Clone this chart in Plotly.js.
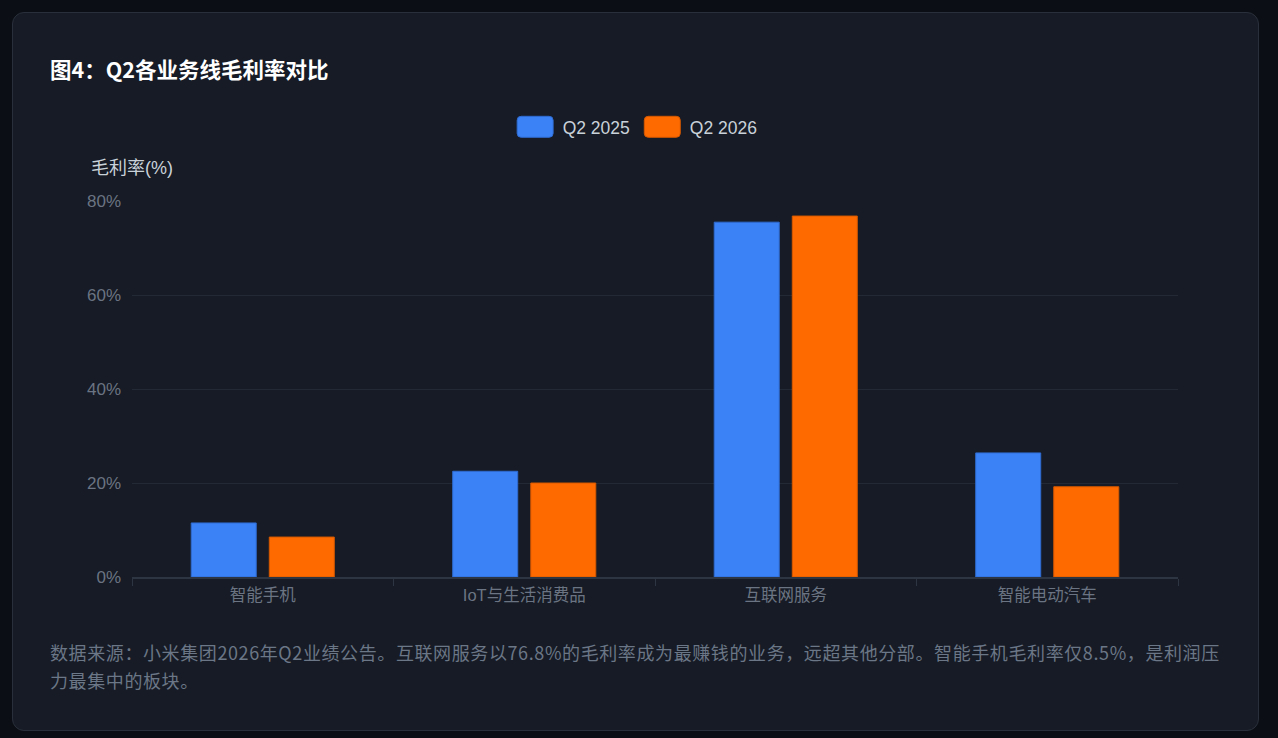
<!DOCTYPE html>
<html lang="zh-CN">
<head>
<meta charset="utf-8">
<title>图4：Q2各业务线毛利率对比</title>
<script src="https://cdn.plot.ly/plotly-3.0.1.min.js"></script>
<style>
    html, body { margin: 0; padding: 0; background: #0b0e14; }
    body { width: 1278px; height: 738px; position: relative; overflow: hidden; }
    .card {
        position: absolute; left: 12px; top: 12px; width: 1245px; height: 717px;
        background: #161b25; border: 1px solid #2a303b; border-radius: 12px;
    }
    .card h3 {
        position: absolute; left: 37px; top: 42px; margin: 0;
        font: bold 21.5px/28px "Noto Sans CJK SC", sans-serif; color: #ffffff;
    }
    #marginChart { position: absolute; left: 0; top: 83px; width: 1245px; height: 530px; }
    .card p {
        position: absolute; left: 37px; top: 625px; width: 1180px; margin: 0;
        font: 18px/28px "Noto Sans CJK SC", sans-serif; letter-spacing: 0.6px; color: #6b7686;
    }
</style>
</head>
<body>
<div class="card">
    <h3>图4：Q2各业务线毛利率对比</h3>
    <div id="marginChart"></div>
    <p>数据来源：小米集团2026年Q2业绩公告。互联网服务以76.8%的毛利率成为最赚钱的业务，远超其他分部。智能手机毛利率仅8.5%，是利润压力最集中的板块。</p>
</div>
<script>
/* 数据 */
const segments = ['智能手机', 'IoT与生活消费品', '互联网服务', '智能电动汽车'];
const margin2025 = [11.5, 22.5, 75.5, 26.4];
const margin2026 = [8.5, 20.0, 76.8, 19.2];
const yTicks = [0, 20, 40, 60, 80];

const palette = {
    blue: '#3b82f6',
    blueEdge: '#2f6bd0',
    orange: '#ff6a00',
    orangeEdge: '#d45800',
    grid: '#232a36',
    axis: '#2e3542',
    tick: '#6b7482'
};

const fontFamily = '"Liberation Sans", "Noto Sans CJK SC", sans-serif';

const traces = [
    {
        type: 'bar', name: 'Q2 2025', x: segments, y: margin2025,
        marker: { color: palette.blue, line: { color: palette.blueEdge, width: 1 } },
        hovertemplate: '%{x}: %{y}%<extra>Q2 2025</extra>'
    },
    {
        type: 'bar', name: 'Q2 2026', x: segments, y: margin2026,
        marker: { color: palette.orange, line: { color: palette.orangeEdge, width: 1 } },
        hovertemplate: '%{x}: %{y}%<extra>Q2 2026</extra>'
    }
];

const layout = {
    width: 1245,
    height: 530,
    margin: { l: 119, r: 80, t: 105, b: 49 },
    paper_bgcolor: 'rgba(0,0,0,0)',
    plot_bgcolor: 'rgba(0,0,0,0)',
    font: { family: fontFamily, color: palette.tick },
    barmode: 'group',
    bargap: 0.403,
    bargroupgap: 0.167,
    showlegend: true,
    legend: {
        orientation: 'h', x: 0.481, xanchor: 'center', y: 1.197, yanchor: 'middle',
        font: { size: 17.5, color: '#c9d1d9', family: fontFamily },
        itemwidth: 45, traceorder: 'normal'
    },
    xaxis: {
        type: 'category',
        tickson: 'boundaries', ticks: 'outside', ticklen: 7, tickcolor: palette.axis,
        showline: true, linecolor: palette.axis, linewidth: 2,
        showgrid: false, zeroline: false, ticklabelstandoff: 2,
        tickfont: { size: 16.5, color: palette.tick, family: fontFamily }
    },
    yaxis: {
        range: [0, 80], tickvals: yTicks, ticktext: yTicks.map(v => v + '%'),
        showgrid: true, gridcolor: palette.grid, gridwidth: 1,
        zeroline: false, showline: false, ticks: '', ticklabelstandoff: 10,
        tickfont: { size: 17, color: palette.tick, family: fontFamily }
    },
    annotations: [{
        text: '毛利率(%)', xref: 'paper', yref: 'paper', x: 0, y: 1,
        xanchor: 'center', yanchor: 'bottom', yshift: 21, showarrow: false,
        font: { size: 18, color: '#c9d1d9', family: fontFamily }
    }]
};

Plotly.newPlot('marginChart', traces, layout, { displayModeBar: false, responsive: false })
    .then(function (gd) {
        // 图例色块改为圆角长方形
        const w = 18, h = 10.5, r = 4;
        const d = 'M' + (-w + r) + ',' + (-h) + 'H' + (w - r) + 'Q' + w + ',' + (-h) + ' ' + w + ',' + (-h + r) +
            'V' + (h - r) + 'Q' + w + ',' + h + ' ' + (w - r) + ',' + h +
            'H' + (-w + r) + 'Q' + (-w) + ',' + h + ' ' + (-w) + ',' + (h - r) +
            'V' + (-h + r) + 'Q' + (-w) + ',' + (-h) + ' ' + (-w + r) + ',' + (-h) + 'Z';
        gd.querySelectorAll('.legend .legendpoints path').forEach(function (p) {
            p.setAttribute('d', d);
        });
    });
</script>
</body>
</html>
